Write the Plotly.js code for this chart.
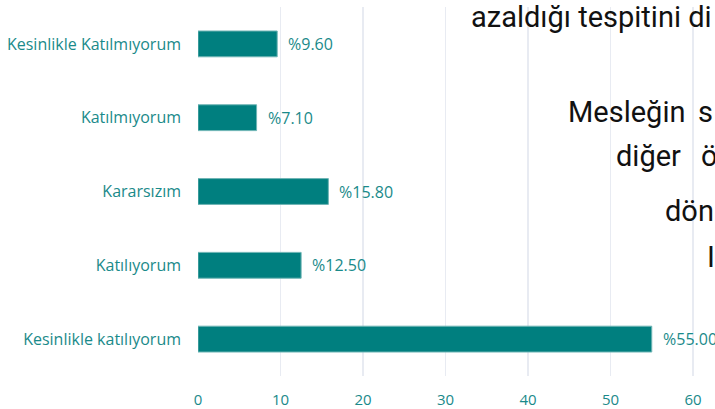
<!DOCTYPE html>
<html>
<head>
<meta charset="utf-8">
<script src="https://cdn.plot.ly/plotly-3.0.1.min.js"></script>
<style>html,body{margin:0;padding:0;background:#fff;overflow:hidden}</style>
</head>
<body>
<div id="chart" style="width:715px;height:409px"></div>
<script>
const categories = ["Kesinlikle katılıyorum", "Katılıyorum", "Kararsızım", "Katılmıyorum", "Kesinlikle Katılmıyorum"];
const values = [55.00, 12.50, 15.80, 7.10, 9.60];
const valueLabels = values.map(v => "%" + v.toFixed(2));
const xTicks = [0, 10, 20, 30, 40, 50, 60];

// overlapping document text visible in the picture
const overlayTexts = ["azaldığı tespitini di", "Mesleğin", "s", "diğer", "ö", "dönü", "I"];

const teal = "#007f7f";
const labelColor = "#1a8a8a";

const trace = {
  type: "bar",
  orientation: "h",
  x: values,
  y: categories,
  width: 0.35,
  marker: {color: teal, line: {color: "#6fb5b5", width: 1}},
  hoverinfo: "none",
  cliponaxis: false
};

const plotLeft = 198, plotRight = 715, plotTop = 7, plotBottom = 376;
const pw = plotRight - plotLeft, ph = plotBottom - plotTop;
function px(x){ return (x - plotLeft) / pw; }
function py(y){ return (plotBottom - y) / ph; }

const overlayPos = [
  [469, 17.5], [566, 112], [696, 112], [614, 156], [699, 156], [663, 211], [705, 257]
];

const annotations = values.map((v, i) => ({
  x: v, y: categories[i], xref: "x", yref: "y",
  text: valueLabels[i], showarrow: false,
  xanchor: "left", yanchor: "middle", xshift: 9,
  font: {family: "Open Sans, sans-serif", size: 16, color: labelColor}
})).concat(overlayTexts.map((t, i) => ({
  x: px(overlayPos[i][0]), y: py(overlayPos[i][1]), xref: "paper", yref: "paper",
  text: t, showarrow: false, xanchor: "left", yanchor: "middle",
  font: {family: "Roboto, sans-serif", size: 29, color: "#111111"}
})));

const layout = {
  width: 715, height: 409,
  margin: {l: plotLeft, r: 0, t: plotTop, b: 409 - plotBottom, pad: 0},
  paper_bgcolor: "#ffffff", plot_bgcolor: "#ffffff",
  showlegend: false,
  xaxis: {
    range: [0, (plotRight - plotLeft) / 8.25],
    tickvals: xTicks, ticktext: xTicks.map(String),
    showgrid: true, gridcolor: "#e8ebf2", gridwidth: 1.5,
    zeroline: false, showline: false, ticks: "",
    ticklabelstandoff: 13,
    tickfont: {family: "Open Sans, sans-serif", size: 15, color: labelColor},
    fixedrange: true
  },
  yaxis: {
    categoryorder: "array", categoryarray: categories,
    showgrid: false, zeroline: false, showline: false, ticks: "",
    ticklabelstandoff: 16,
    tickfont: {family: "Open Sans, sans-serif", size: 16, color: labelColor},
    fixedrange: true
  },
  annotations: annotations
};

Plotly.newPlot("chart", [trace], layout, {staticPlot: true, displayModeBar: false});
</script>
</body>
</html>
